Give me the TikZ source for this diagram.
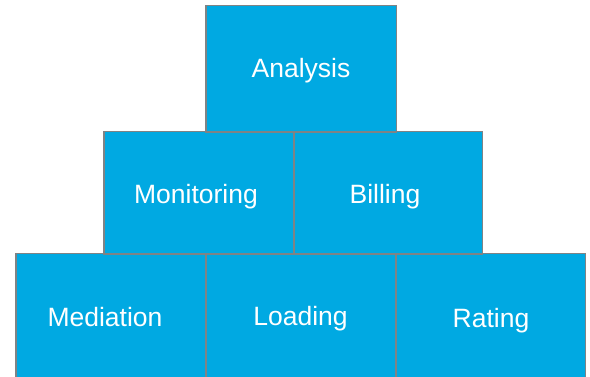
\documentclass[tikz,border=0pt]{standalone}
\usepackage{fontspec}
\setmainfont{Liberation Sans}
\definecolor{boxblue}{HTML}{00A9E2}
\definecolor{boxedge}{HTML}{7F8385}
\begin{document}
\begin{tikzpicture}[x=1pt,y=1pt,
  block/.style={rectangle, fill=boxblue, anchor=south west, inner sep=0pt},
  edge/.style={draw=boxedge, line width=1.2pt},
  caption/.style={anchor=base, inner sep=0pt, text=white,
    font=\fontsize{26.5}{30}\selectfont}]
\useasboundingbox (0,0) rectangle (590,376);
\begin{scope}
\clip (0,0) rectangle (590,376);
% fills
\node[block, minimum width=190pt, minimum height=126pt] (mediation) at (16,-4) {};
\node[block, minimum width=190pt, minimum height=126pt] (loading) at (206,-4) {};
\node[block, minimum width=189pt, minimum height=126pt] (rating) at (396,-4) {};
\node[block, minimum width=189.5pt, minimum height=122pt] (monitoring) at (104,122) {};
\node[block, minimum width=188.5pt, minimum height=122pt] (billing) at (293.5,122) {};
\node[block, minimum width=190pt, minimum height=126pt] (analysis) at (206,244) {};
% outlines
\foreach \b in {mediation,loading,rating,monitoring,billing,analysis}
  \draw[edge] (\b.south west) rectangle (\b.north east);
\end{scope}
% texts
\node[caption] (tanalysis) at (301,299) {Analysis};
\node[caption] (tmonitoring) at (196,173) {Monitoring};
\node[caption] (tbilling) at (385,173) {Billing};
\node[caption] (tmediation) at (105,50) {Mediation};
\node[caption] (tloading) at (300.5,51) {Loading};
\node[caption] (trating) at (491,49) {Rating};
\end{tikzpicture}
\end{document}
